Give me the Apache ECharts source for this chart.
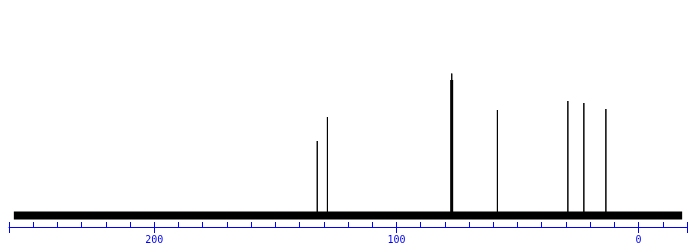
<!DOCTYPE html>
<html>
<head>
<meta charset="utf-8">
<script src="https://cdn.jsdelivr.net/npm/echarts@6/dist/echarts.min.js"></script>
<style>html,body{margin:0;padding:0;background:#fff}#c{width:697px;height:246px}</style>
</head>
<body>
<div id="c"></div>
<script>
// Spectrum range (ppm) covered by the recorded baseline
var specStart = 258;
var specEnd = -18;
// Peak positions (ppm) and heights (arbitrary units)
var peakPpm    = [132.7, 128.5, 77.5, 77.15, 76.8, 58.3, 29.2, 22.6, 13.5];
var peakHeight = [74.5,  98.5,  135.5, 142,  135.5, 105.5, 114.5, 112.5, 106.5];
// Axis ticks and labels
var minorTicks = [-20,-10,0,10,20,30,40,50,60,70,80,90,100,110,120,130,140,150,160,170,180,190,200,210,220,230,240,250,260];
var majorTicks = [-20, 0, 100, 200, 260];
var tickLabels = [0, 100, 200];

var spikes = [];
for (var i = 0; i < peakPpm.length; i++) {
  spikes.push([peakPpm[i], 0], [peakPpm[i], peakHeight[i]], [peakPpm[i], 0], [peakPpm[i], null]);
}
var baseline = [[specStart, 0], [specEnd, 0]];

var blue = '#0000ff';
var chart = echarts.init(document.getElementById('c'), null, {renderer: 'canvas'});
chart.setOption({
  animation: false,
  backgroundColor: '#fff',
  grid: {left: 9, right: 10, top: 0, bottom: 19},
  xAxis: [{
    type: 'value', inverse: true, min: -20, max: 260, position: 'bottom',
    axisLine: {show: true, onZero: false, lineStyle: {color: blue, width: 1}},
    axisTick: {show: true, inside: true, length: 5, customValues: minorTicks, lineStyle: {color: blue}},
    axisLabel: {show: true, customValues: tickLabels, margin: 8, color: blue,
      fontFamily: 'DejaVu Sans Mono', fontSize: 10},
    splitLine: {show: false}
  }, {
    type: 'value', inverse: true, min: -20, max: 260, position: 'bottom', offset: 0,
    axisLine: {show: false, onZero: false},
    axisTick: {show: true, inside: false, length: 6, customValues: majorTicks, lineStyle: {color: blue}},
    axisLabel: {show: false},
    splitLine: {show: false}
  }],
  yAxis: {type: 'value', min: -11.5, max: 215.5, show: false, splitLine: {show: false}},
  series: [{
    type: 'line', xAxisIndex: 0, data: baseline, symbol: 'none',
    lineStyle: {color: '#000', width: 8}
  }, {
    type: 'line', xAxisIndex: 0, data: spikes, symbol: 'none', connectNulls: false,
    lineStyle: {color: '#000', width: 1}
  }]
});
</script>
</body>
</html>
